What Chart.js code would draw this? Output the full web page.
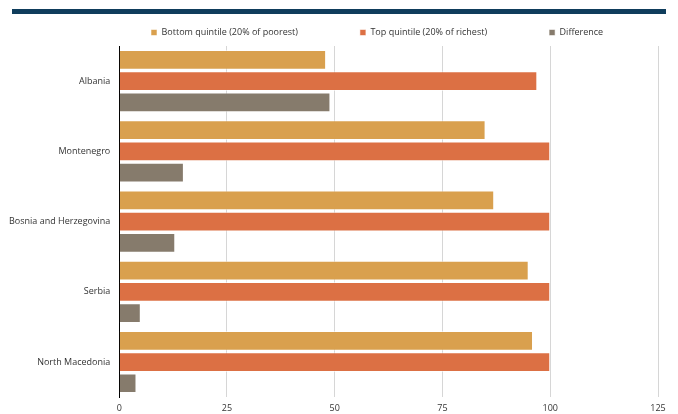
<!DOCTYPE html>
<html>
<head>
<meta charset="utf-8">
<script src="https://cdn.jsdelivr.net/npm/chart.js@4"></script>
<style>
  html, body { margin: 0; padding: 0; background: #fff; }
  #wrap { position: relative; width: 678px; height: 414px; }
  #rule { position: absolute; left: 12px; top: 9px; width: 654px; height: 5px; background: #0f3d5c; }
  canvas { position: absolute; left: 0; top: 0; }
</style>
</head>
<body>
<div id="wrap">
  <canvas id="c" width="678" height="414"></canvas>
  <div id="rule"></div>
</div>
<script>
const countries = ["Albania", "Montenegro", "Bosnia and Herzegovina", "Serbia", "North Macedonia"];
const bottomQuintile = [48, 85, 87, 95, 96];
const topQuintile = [97, 100, 100, 100, 100];
const difference = [49, 15, 13, 5, 4];
const xTicks = [0, 25, 50, 75, 100, 125];

const font = { family: "'Open Sans', 'Liberation Sans', sans-serif", size: 9 };

// Legend row starts at a fixed left offset instead of being centred on the canvas.
const LEGEND_START_X = 151;
const legendOffset = {
  id: "legendOffset",
  afterLayout(chart) {
    const lg = chart.legend;
    if (!lg || !lg.lineWidths) return;
    const pad = lg.options.labels.padding;
    const x0 = (lg.left + pad + lg.right - lg.lineWidths[0]) / 2;
    const dx = LEGEND_START_X - x0;
    lg.left += dx;
    lg.right += dx;
    lg.top += 1;
    lg.bottom += 1;
  }
};

new Chart(document.getElementById("c"), {
  type: "bar",
  data: {
    labels: countries,
    datasets: [
      { label: "Bottom quintile (20% of poorest)", data: bottomQuintile, backgroundColor: "#d9a04e" },
      { label: "Top quintile (20% of richest)", data: topQuintile, backgroundColor: "#dc7044" },
      { label: "Difference", data: difference, backgroundColor: "#867b6c" }
    ]
  },
  plugins: [legendOffset],
  options: {
    indexAxis: "y",
    responsive: false,
    animation: false,
    layout: { padding: { top: -35, right: 20, left: 0, bottom: -6 } },
    datasets: {
      bar: {
        categoryPercentage: 0.905,
        barPercentage: 0.93,
        borderColor: "rgba(255,255,255,0.55)",
        borderWidth: 1
      }
    },
    plugins: {
      legend: {
        position: "top",
        labels: {
          boxWidth: 6,
          boxHeight: 6,
          padding: 62,
          color: "#333",
          font: font
        }
      },
      tooltip: { enabled: false }
    },
    scales: {
      x: {
        z: 1,
        min: 0,
        max: 125,
        afterBuildTicks: (axis) => { axis.ticks = xTicks.map(v => ({ value: v })); },
        grid: { color: "rgba(200,200,200,0.75)", lineWidth: 1, drawTicks: false },
        border: { display: false },
        ticks: { color: "#333", font: font, padding: 6 }
      },
      y: {
        z: 2,
        grid: { display: false, drawTicks: false },
        border: { display: true, color: "#000", width: 1 },
        ticks: { color: "#333", font: font, padding: 9 }
      }
    }
  }
});
</script>
</body>
</html>
